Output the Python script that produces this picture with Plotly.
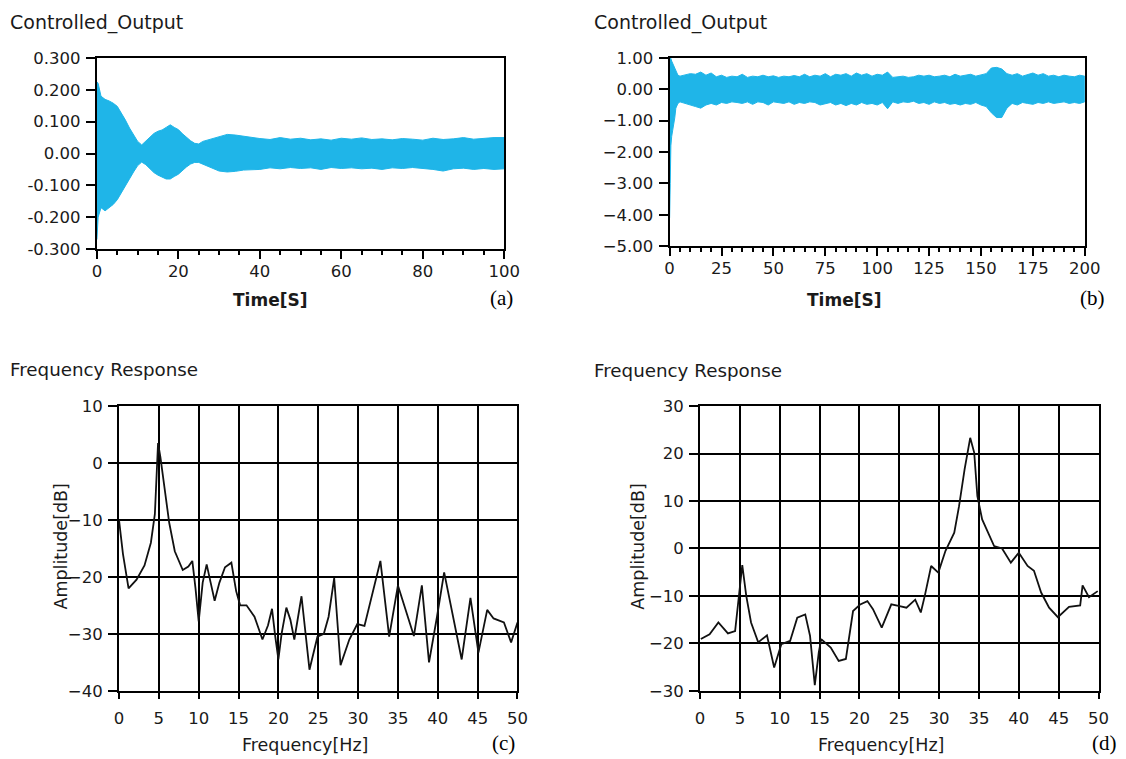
import plotly.graph_objects as go

# page geometry (the browser body keeps its default 8px margin)
OX, OY = 8, 8
FW, FH = 1134, 762

# ---------------- (a) Controlled_Output, 0-100 s : band envelope
time_a = [0, 0.3, 1, 2, 3, 4, 5, 6, 7, 8, 9, 10, 11, 12, 13, 14, 15, 16, 17, 18, 19, 20,
          21, 22, 23, 24, 25, 26, 28, 30, 32, 34, 36, 38, 40, 42.5, 45, 47.5, 50, 52.5, 55,
          57.5, 60, 62.5, 65, 67.5, 70, 72.5, 75, 77.5, 80, 82.5, 85, 87.5, 90, 92.5, 95, 97.5, 100]
upper_a = [0.225, 0.22, 0.18, 0.17, 0.165, 0.158, 0.148, 0.128, 0.105, 0.08, 0.058, 0.038, 0.027,
           0.038, 0.05, 0.063, 0.07, 0.074, 0.082, 0.09, 0.082, 0.075, 0.062, 0.05, 0.04, 0.032,
           0.03, 0.038, 0.046, 0.052, 0.06, 0.058, 0.054, 0.05, 0.047, 0.044, 0.05, 0.045, 0.048,
           0.043, 0.046, 0.042, 0.048, 0.045, 0.049, 0.044, 0.046, 0.043, 0.047, 0.045, 0.042,
           0.048, 0.044, 0.046, 0.05, 0.045, 0.048, 0.05, 0.05]
lower_a = [-0.27, -0.2, -0.17, -0.18, -0.17, -0.16, -0.145, -0.125, -0.105, -0.08, -0.058, -0.038,
           -0.027, -0.035, -0.048, -0.06, -0.068, -0.075, -0.08, -0.08, -0.072, -0.065, -0.052,
           -0.042, -0.033, -0.028, -0.028, -0.035, -0.045, -0.055, -0.058, -0.056, -0.052, -0.05,
           -0.05, -0.045, -0.048, -0.044, -0.047, -0.045, -0.05, -0.044, -0.047, -0.045, -0.048,
           -0.046, -0.05, -0.045, -0.047, -0.044, -0.046, -0.05, -0.055, -0.048, -0.046, -0.05,
           -0.047, -0.05, -0.048]

# ---------------- (b) Controlled_Output, 0-200 s
time_b_up = [0, 0.5, 1, 2, 3, 4, 5, 7.5, 10, 12.5, 15, 17.5, 20, 22.5, 25, 27.5, 30, 32.5, 35, 37.5,
             40, 42.5, 45, 47.5, 50, 52.5, 55, 57.5, 60, 62.5, 65, 67.5, 70, 72.5, 75, 77.5, 80,
             82.5, 85, 87.5, 90, 92.5, 95, 97.5, 100, 102.5, 105, 107.5, 110, 112.5, 115, 117.5,
             120, 122.5, 125, 127.5, 130, 132.5, 135, 137.5, 140, 142.5, 145, 147.5, 150, 152.5,
             155, 157.5, 160, 162.5, 165, 167.5, 170, 172.5, 175, 177.5, 180, 182.5, 185, 187.5,
             190, 192.5, 195, 197.5, 200]
upper_b = [1.0, 1.0, 0.9, 0.75, 0.55, 0.45, 0.42, 0.45, 0.5, 0.48, 0.55, 0.45, 0.52, 0.4, 0.45,
           0.38, 0.42, 0.4, 0.48, 0.38, 0.42, 0.4, 0.45, 0.4, 0.43, 0.38, 0.42, 0.4, 0.44, 0.4,
           0.48, 0.4, 0.45, 0.42, 0.5, 0.4, 0.48, 0.45, 0.5, 0.42, 0.52, 0.45, 0.5, 0.42, 0.48,
           0.45, 0.55, 0.38, 0.4, 0.42, 0.38, 0.4, 0.45, 0.42, 0.45, 0.4, 0.42, 0.45, 0.4, 0.48,
           0.42, 0.45, 0.48, 0.42, 0.45, 0.5, 0.68, 0.7, 0.65, 0.5, 0.45, 0.5, 0.42, 0.48, 0.52,
           0.45, 0.5, 0.42, 0.45, 0.4, 0.45, 0.42, 0.4, 0.45, 0.42]
time_b_low = [0, 0.3, 0.6, 1, 1.5, 2, 2.5, 3, 4, 5, 7.5, 10, 12.5, 15, 17.5, 20, 22.5, 25, 27.5, 30,
              32.5, 35, 37.5, 40, 42.5, 45, 47.5, 50, 52.5, 55, 57.5, 60, 62.5, 65, 67.5, 70, 72.5,
              75, 77.5, 80, 82.5, 85, 87.5, 90, 92.5, 95, 97.5, 100, 102.5, 105, 107.5, 110, 112.5,
              115, 117.5, 120, 122.5, 125, 127.5, 130, 132.5, 135, 137.5, 140, 142.5, 145, 147.5,
              150, 152.5, 155, 157.5, 160, 162.5, 165, 167.5, 170, 172.5, 175, 177.5, 180, 182.5,
              185, 187.5, 190, 192.5, 195, 197.5, 200]
lower_b = [-4.1, -3.0, -1.8, -1.5, -1.3, -1.2, -0.9, -0.6, -0.45, -0.4, -0.45, -0.5, -0.55, -0.6,
           -0.5, -0.45, -0.5, -0.42, -0.45, -0.4, -0.42, -0.45, -0.4, -0.48, -0.4, -0.42, -0.5,
           -0.4, -0.42, -0.45, -0.4, -0.48, -0.42, -0.45, -0.4, -0.42, -0.5, -0.45, -0.42, -0.5,
           -0.45, -0.52, -0.45, -0.5, -0.42, -0.48, -0.45, -0.5, -0.42, -0.62, -0.4, -0.45, -0.4,
           -0.42, -0.38, -0.45, -0.42, -0.48, -0.4, -0.45, -0.42, -0.48, -0.45, -0.5, -0.45,
           -0.48, -0.42, -0.5, -0.55, -0.75, -0.9, -0.9, -0.6, -0.45, -0.5, -0.42, -0.45, -0.48,
           -0.42, -0.45, -0.4, -0.45, -0.42, -0.4, -0.45, -0.42, -0.45, -0.4]

# ---------------- (c) Frequency Response
freq_c = [0, 0.5, 1.2, 2.2, 3.2, 4.0, 4.5, 4.9, 5.2, 5.7, 6.3, 7.0, 8.0, 8.7, 9.2, 9.6, 10.0, 10.5,
          11.0, 11.5, 12.0, 12.6, 13.3, 14.1, 14.7, 15.2, 16.0, 17.0, 18.0, 18.7, 19.2, 19.6, 20.0,
          20.4, 21.0, 21.5, 22.0, 22.9, 23.9, 24.9, 25.7, 26.3, 27.0, 27.8, 28.9, 29.9, 30.8, 32.8,
          33.9, 35.0, 37.0, 38.0, 38.9, 39.9, 40.8, 43.0, 44.1, 45.1, 46.2, 47.0, 48.3, 49.2, 50.0]
amp_c = [-10, -16, -22, -20.5, -18, -14, -9, 3.5, 1, -4, -10.5, -15.5, -18.8, -18.2, -17.2, -22,
         -27.8, -21, -17.8, -21, -24.2, -21, -18.3, -17.5, -22.5, -25, -25, -27, -31, -28.5, -25.6,
         -30.4, -34.5, -30, -25.4, -27.5, -31, -23.4, -36.3, -30.5, -30, -27, -20.2, -35.5, -31,
         -28.3, -28.6, -17.2, -30.5, -21.5, -30.4, -21.5, -35, -27, -19.2, -34.5, -23.7, -33.3,
         -25.8, -27.3, -28, -31.5, -28]

# ---------------- (d) Frequency Response
freq_d = [0.1, 1.2, 2.3, 3.5, 4.4, 5.0, 5.3, 5.8, 6.4, 7.3, 8.4, 9.3, 10.2, 11.3, 12.2, 13.2, 13.8,
          14.4, 14.9, 15.2, 16.4, 17.4, 18.3, 19.2, 20.1, 21.0, 21.7, 22.8, 24.0, 24.9, 25.9, 27.0,
          27.7, 28.2, 29.0, 29.9, 30.8, 31.9, 32.5, 33.2, 33.9, 34.4, 34.8, 35.4, 36.9, 37.9, 39.0,
          40.0, 41.1, 41.9, 42.8, 43.8, 44.9, 46.3, 47.7, 48.0, 48.8, 49.9]
amp_d = [-19.1, -18.1, -15.6, -17.9, -17.4, -7.2, -3.5, -10, -15.6, -19.8, -18.3, -25.1, -20.2,
         -19.5, -14.6, -13.9, -18.4, -28.8, -21.9, -19.1, -20.9, -23.7, -23.3, -13.2, -11.8, -11.1,
         -12.8, -16.7, -11.8, -12.1, -12.5, -10.8, -13.5, -10, -3.7, -5.1, -0.5, 3.3, 8.9, 16.7,
         23.3, 20.2, 11, 6.1, 0.5, 0, -3, -0.9, -3.7, -4.7, -9.3, -12.5, -14.5, -12.3, -12,
         -7.8, -10.3, -9]

a_yticks = [0.3, 0.2, 0.1, 0.0, -0.1, -0.2, -0.3]
a_yticktext = ["0.300", "0.200", "0.100", "0.00", "-0.100", "-0.200", "-0.300"]

CYAN = "#1fb5e8"
TXT = "#1a1a1a"
FONT = "DejaVu Sans"


def dx(x0, x1):
    return [(x0 - OX) / FW, (x1 - OX) / FW]


def dy(y0, y1):
    return [1 - (y1 - OY) / FH, 1 - (y0 - OY) / FH]


fig = go.Figure()

fig.add_trace(go.Scatter(x=time_a + time_a[::-1], y=upper_a + lower_a[::-1], fill="toself",
                         fillcolor=CYAN, mode="lines", line=dict(color=CYAN, width=1),
                         xaxis="x", yaxis="y", hoverinfo="skip"))
fig.add_trace(go.Scatter(x=time_b_up + time_b_low[::-1], y=upper_b + lower_b[::-1], fill="toself",
                         fillcolor=CYAN, mode="lines", line=dict(color=CYAN, width=1),
                         xaxis="x2", yaxis="y2", hoverinfo="skip"))
fig.add_trace(go.Scatter(x=freq_c, y=amp_c, mode="lines", line=dict(color="#111", width=1.8),
                         xaxis="x3", yaxis="y3"))
fig.add_trace(go.Scatter(x=freq_d, y=amp_d, mode="lines", line=dict(color="#111", width=1.8),
                         xaxis="x4", yaxis="y4"))


def ax(gridded=False, **kw):
    d = dict(showline=True, linecolor="black", linewidth=2, mirror=True, ticks="outside",
             tickcolor="black", tickwidth=2, zeroline=False, showgrid=False, fixedrange=True,
             tickfont=dict(family=FONT, size=16.5, color=TXT))
    if gridded:
        d.update(showgrid=True, gridcolor="black", gridwidth=2)
    d.update(kw)
    return d


minor = dict(dtick=5, ticks="outside", ticklen=4, tickwidth=2, tickcolor="black", showgrid=False)

fig.update_layout(
    width=FW, height=FH, margin=dict(l=0, r=0, t=0, b=0), showlegend=False,
    paper_bgcolor="white", plot_bgcolor="white",
    xaxis=ax(domain=dx(93.5, 508.5), anchor="y", range=[0, 100], dtick=20, ticklen=8,
             minor=minor, ticklabelstandoff=-2),
    yaxis=ax(domain=dy(50, 246), anchor="x", range=[-0.3, 0.3], tickvals=a_yticks,
             ticktext=a_yticktext, ticklen=9, ticklabelstandoff=2),
    xaxis2=ax(domain=dx(677, 1100), anchor="y2", range=[0, 200], dtick=25, ticklen=8,
              minor=minor, ticklabelstandoff=-2),
    yaxis2=ax(domain=dy(50, 243), anchor="x2", range=[-5, 1], dtick=1, tickformat=".2f",
              ticklen=9, ticklabelstandoff=2),
    xaxis3=ax(True, domain=dx(116, 522), anchor="y3", range=[0, 50], dtick=5, ticklen=6,
              ticklabelstandoff=5),
    yaxis3=ax(True, domain=dy(407, 699), anchor="x3", range=[-40, 10], dtick=10,
              ticklen=9, ticklabelstandoff=2),
    xaxis4=ax(True, domain=dx(708, 1114), anchor="y4", range=[0, 50], dtick=5, ticklen=6,
              ticklabelstandoff=5),
    yaxis4=ax(True, domain=dy(407, 699), anchor="x4", range=[-30, 30], dtick=10,
              ticklen=9, ticklabelstandoff=2),
)


def note(text, px, py, size, xanchor="left", bold=False, family=FONT, angle=0, color=TXT):
    if bold:
        text = "<b>" + text + "</b>"
    fig.add_annotation(text=text, x=(px - OX) / FW, y=1 - (py - OY) / FH, xref="paper",
                       yref="paper", xanchor=xanchor, yanchor="middle", showarrow=False,
                       textangle=angle, font=dict(family=family, size=size, color=color))


note("Controlled_Output", 3, 14, 19)
note("Controlled_Output", 598, 14, 19)
note("Frequency Response", 3, 370, 18.3)
note("Frequency Response", 598, 371, 18.3)
note("Time[S]", 270, 298, 17, xanchor="center", bold=True)
note("Time[S]", 855, 298, 17, xanchor="center", bold=True)
note("Frequency[Hz]", 305, 755, 17.5, xanchor="center")
note("Frequency[Hz]", 892, 755, 17.5, xanchor="center")
note("Amplitude[dB]", 57, 551, 17.5, xanchor="center", angle=-90)
note("Amplitude[dB]", 645, 551, 17.5, xanchor="center", angle=-90)
note("(a)", 506, 296, 21, xanchor="center", family="Liberation Serif", color="black")
note("(b)", 1108, 296, 21, xanchor="center", family="Liberation Serif", color="black")
note("(c)", 508, 753, 21, xanchor="center", family="Liberation Serif", color="black")
note("(d)", 1120, 753, 21, xanchor="center", family="Liberation Serif", color="black")

fig.write_html("out.html")
